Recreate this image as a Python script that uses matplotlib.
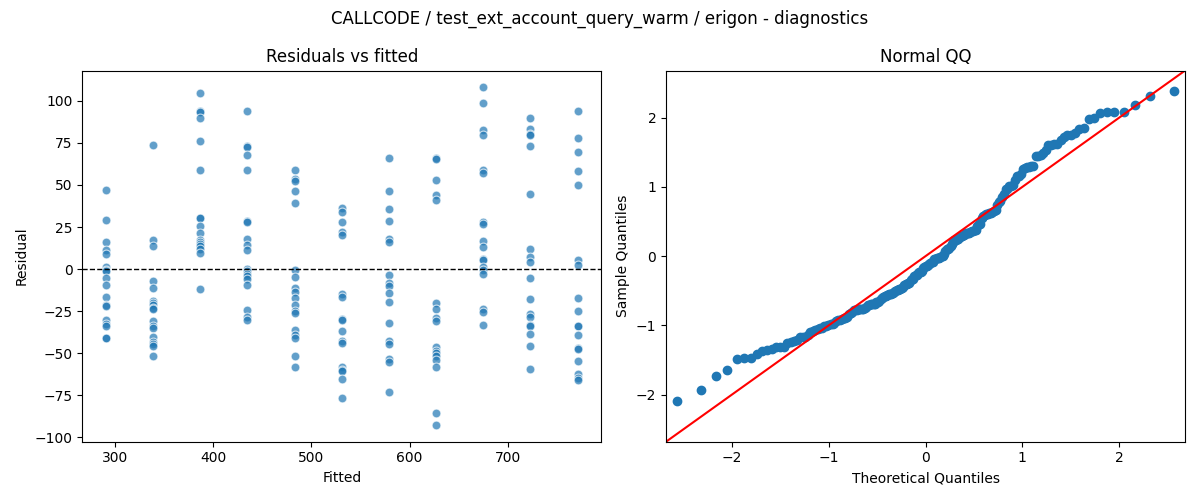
import numpy as np
import matplotlib
matplotlib.use("Agg")
import matplotlib.pyplot as plt
from statistics import NormalDist

# Fitted value levels and the residuals observed at each level
fitted_levels = [291, 339, 387, 435, 483, 531, 579, 627, 675, 723, 771]
residuals_by_level = [
    [47.0, 29.1, 16.0, 11.3, 8.9, 1.0, -0.4, -1.2, -5.3, -9.5, -16.4, -21.1, -22.1, -30.0, -32.4, -34.0, -40.7, -41.1],
    [73.5, 17.2, 13.8, -7.1, -11.3, -19.0, -20.2, -21.5, -22.9, -23.7, -30.6, -34.0, -35.0, -40.1, -43.1, -44.3, -45.8, -51.6],
    [104.5, 93.9, 93.3, 89.9, 75.9, 58.7, 30.6, 30.2, 25.5, 21.3, 17.4, 16.0, 15.0, 14.0, 12.1, 9.7, -11.7],
    [93.9, 73.1, 72.5, 67.6, 58.7, 28.7, 28.1, 17.8, 14.6, 11.3, 0.2, -1.0, -2.8, -4.2, -6.1, -9.3, -24.1, -28.5, -30.2],
    [58.9, 53.8, 52.6, 46.4, 39.1, -0.4, -4.7, -11.1, -13.8, -17.0, -21.1, -24.7, -26.3, -36.0, -38.9, -40.7, -51.6, -57.9],
    [36.6, 33.8, 27.7, 21.9, 20.2, -14.6, -16.4, -29.8, -30.2, -36.8, -42.7, -43.9, -58.1, -60.1, -60.5, -65.2, -76.5],
    [65.8, 46.2, 35.6, 28.5, 18.0, 16.0, -3.6, -8.5, -10.1, -14.2, -19.6, -32.0, -42.5, -44.3, -53.6, -55.1, -72.9],
    [66.0, 65.4, 52.8, 44.1, 40.9, -20.2, -23.7, -28.9, -30.8, -46.0, -48.4, -50.0, -51.4, -53.8, -57.9, -85.4, -92.5],
    [107.9, 98.4, 82.8, 79.4, 58.9, 56.9, 27.9, 26.7, 16.6, 13.0, 6.3, 5.5, 1.0, -0.4, -3.0, -23.5, -25.5, -33.2],
    [89.5, 83.4, 80.4, 79.4, 72.9, 44.5, 11.7, 7.1, 4.2, -5.3, -17.8, -26.7, -28.3, -33.4, -33.6, -38.5, -45.5, -59.1],
    [93.7, 77.7, 69.4, 58.1, 49.8, 5.3, 2.4, -17.2, -24.9, -33.6, -34.0, -39.1, -46.8, -47.4, -54.5, -62.1, -64.8, -65.6],
]

title = "CALLCODE / test_ext_account_query_warm / erigon - diagnostics"

fitted = np.concatenate([[f] * len(r) for f, r in zip(fitted_levels, residuals_by_level)]).astype(float)
resid = np.concatenate([np.array(r, dtype=float) for r in residuals_by_level])

fig, (ax1, ax2) = plt.subplots(1, 2, figsize=(12, 5), dpi=100)

ax1.scatter(fitted, resid, s=40, color="C0", alpha=0.7, edgecolors="white", linewidths=0.8)
ax1.axhline(0, color="black", linestyle="--", linewidth=1)
ax1.set_title("Residuals vs fitted")
ax1.set_xlabel("Fitted")
ax1.set_ylabel("Residual")

# Normal QQ of standardized residuals
n = len(resid)
sample = np.sort((resid - resid.mean()) / resid.std())
nd = NormalDist()
theo = np.array([nd.inv_cdf(i / (n + 1)) for i in range(1, n + 1)])
ax2.plot(theo, sample, marker="o", linestyle="none", color="C0", markersize=6)
lim = (-2.68, 2.68)
ax2.plot(lim, lim, color="red")
ax2.set_xlim(lim)
ax2.set_ylim(lim)
ax2.set_title("Normal QQ")
ax2.set_xlabel("Theoretical Quantiles")
ax2.set_ylabel("Sample Quantiles")

fig.suptitle(title)
fig.tight_layout()
fig.savefig("out.png")
